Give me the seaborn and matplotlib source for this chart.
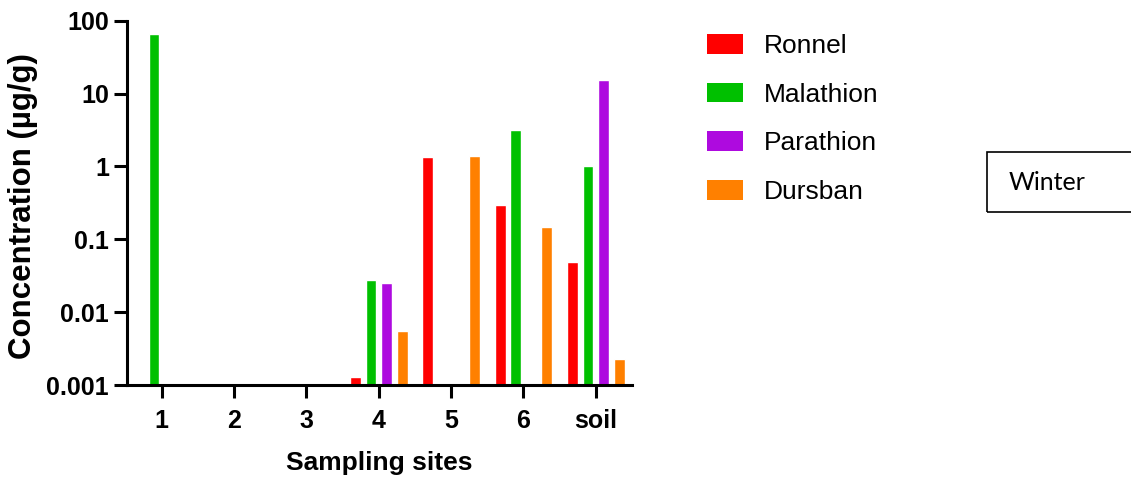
import matplotlib
matplotlib.use("Agg")
import matplotlib.pyplot as plt
from matplotlib.patches import Rectangle, Patch
import seaborn as sns
import pandas as pd
import numpy as np

sns.set_style("white")
plt.rcParams['font.family'] = ['Liberation Sans', 'DejaVu Sans']
plt.rcParams['text.color'] = 'black'
plt.rcParams['axes.labelcolor'] = 'black'
plt.rcParams['xtick.color'] = 'black'
plt.rcParams['ytick.color'] = 'black'

# data (ug/g, NaN = not detected)
sites = ['1', '2', '3', '4', '5', '6', 'soil']
compounds = ['Ronnel', 'Malathion', 'Parathion', 'Dursban']
ronnel = [np.nan, np.nan, np.nan, 0.0013, 1.35, 0.30, 0.049]
malathion = [65, np.nan, np.nan, 0.028, np.nan, 3.15, 1.0]
parathion = [np.nan, np.nan, np.nan, 0.025, np.nan, np.nan, 15.3]
dursban = [np.nan, np.nan, np.nan, 0.0056, 1.40, 0.146, 0.0023]
ytick_vals = [0.001, 0.01, 0.1, 1, 10, 100]
ytick_labels = ['0.001', '0.01', '0.1', '1', '10', '100']

colors = ['#FF0000', '#00C000', '#AE0ADF', '#FF8000']

df = pd.DataFrame({
    'site': sites * 4,
    'compound': np.repeat(compounds, len(sites)),
    'conc': ronnel + malathion + parathion + dursban,
})
df = df.dropna()

fig = plt.figure(figsize=(11.31, 4.82), dpi=100)
ax = fig.add_axes([0.1123, 0.2012, 0.4465, 0.7558])
ax.set_yscale('log')

sns.barplot(data=df, x='site', y='conc', hue='compound', order=sites,
            hue_order=compounds, palette=colors, width=0.86, gap=0.3,
            errorbar=None, saturation=1, ax=ax, legend=False)

ax.set_ylim(0.001, 100)
ax.set_xlim(-0.48, 6.5)
ax.set_yticks(ytick_vals)
ax.set_yticklabels(ytick_labels)
ax.yaxis.set_minor_locator(matplotlib.ticker.NullLocator())

for s in ['top', 'right']:
    ax.spines[s].set_visible(False)
for s in ['left', 'bottom']:
    ax.spines[s].set_linewidth(2.2)
    ax.spines[s].set_color('black')

ax.tick_params(axis='both', which='major', direction='out', length=9.4, width=2.2,
               color='black', labelsize=18)
ax.tick_params(axis='y', pad=3.5, left=True)
ax.tick_params(axis='x', pad=8, bottom=True)
for lab in ax.get_xticklabels() + ax.get_yticklabels():
    lab.set_fontweight('bold')

ax.set_xlabel('Sampling sites', fontsize=19, fontweight='bold', labelpad=13)
ax.set_ylabel('Concentration (µg/g)', fontsize=22.5, fontweight='bold')
ax.yaxis.set_label_coords(-0.176, 0.49)

handles = [Patch(facecolor=c, edgecolor='none') for c in colors]
fig.legend(handles, compounds, loc='upper left', bbox_to_anchor=(0.604, 0.978),
           frameon=False, fontsize=19, handlelength=1.36, handleheight=0.76,
           handletextpad=0.8, labelspacing=0.93)

# "Winter" box, runs past the right edge
fig.patches.append(Rectangle((987 / 1131, 1 - 212 / 482), 0.2, 60 / 482,
                             transform=fig.transFigure, fill=False,
                             edgecolor='black', linewidth=1.2))
fig.text(1009 / 1131, 1 - 183 / 482, 'Winter', fontsize=18, family='Lato',
         va='center', ha='left')

fig.savefig('out.png', dpi=100)
